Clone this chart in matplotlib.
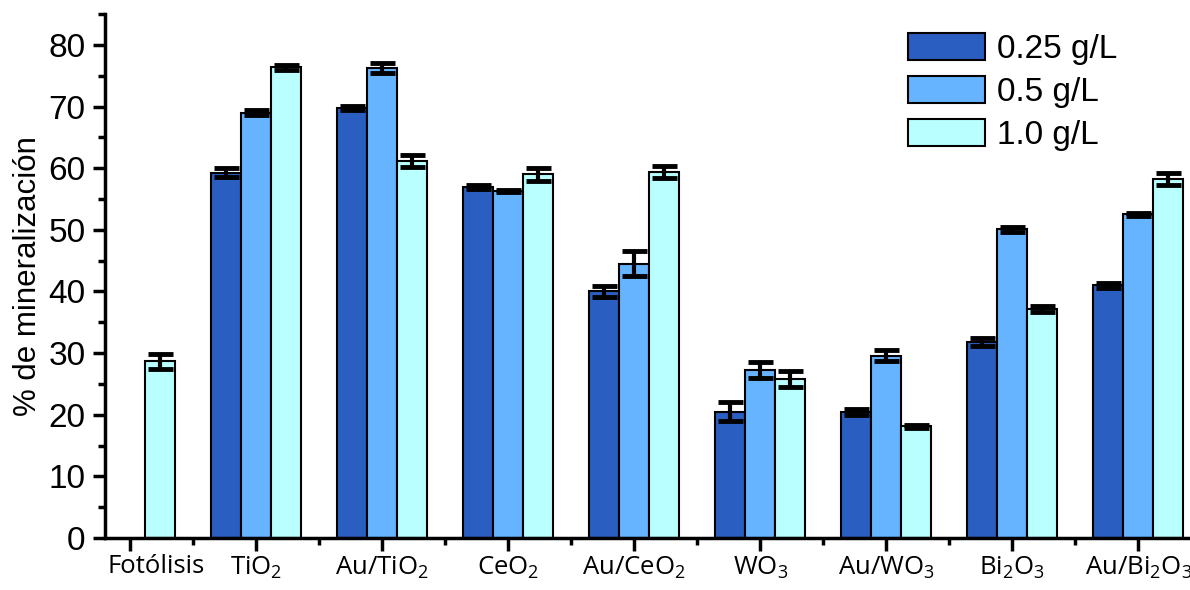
import numpy as np
import matplotlib
matplotlib.use("Agg")
import matplotlib.pyplot as plt
from matplotlib.ticker import MultipleLocator, FixedLocator

categories = ["Fotólisis", "TiO$_2$", "Au/TiO$_2$", "CeO$_2$", "Au/CeO$_2$",
              "WO$_3$", "Au/WO$_3$", "Bi$_2$O$_3$", "Au/Bi$_2$O$_3$"]
series_names = ["0.25 g/L", "0.5 g/L", "1.0 g/L"]
v025 = [np.nan, 59.3, 69.8, 57.0, 40.0, 20.5, 20.4, 31.8, 41.0]
e025 = [np.nan, 0.7, 0.3, 0.3, 0.9, 1.5, 0.5, 0.7, 0.4]
v05 = [np.nan, 69.0, 76.2, 56.3, 44.5, 27.3, 29.6, 50.1, 52.5]
e05 = [np.nan, 0.4, 0.8, 0.2, 2.0, 1.3, 0.9, 0.4, 0.3]
v10 = [28.7, 76.4, 61.2, 59.0, 59.4, 25.8, 18.1, 37.1, 58.3]
e10 = [1.2, 0.4, 1.0, 1.1, 1.0, 1.3, 0.2, 0.5, 1.0]
colors = ["#2A5EC0", "#66B3FF", "#B9FFFF"]

plt.rcParams['mathtext.default'] = 'regular'

fig = plt.figure(figsize=(11.9, 5.9), dpi=100)
ax = fig.add_axes([0.0882, 0.0881, 0.9118, 0.888])

x = np.arange(len(categories))
w = 0.238
vals = [v025, v05, v10]
errs = [e025, e05, e10]
for i, (v, e) in enumerate(zip(vals, errs)):
    ax.bar(x + (i - 1) * w, v, w, color=colors[i], edgecolor='black',
           linewidth=1.5, label=series_names[i], zorder=2)
    ax.errorbar(x + (i - 1) * w, v, yerr=e, fmt='none', ecolor='black',
                elinewidth=3, capsize=9, capthick=3.5, zorder=3)

ax.set_ylim(0, 85)
ax.set_xlim(-0.2, 8.41)
ax.yaxis.set_major_locator(MultipleLocator(10))
ax.yaxis.set_minor_locator(MultipleLocator(5))
ax.set_xticks(x)
ax.xaxis.set_minor_locator(FixedLocator(x[:-1] + 0.5))
# first label sits to the right of its tick in the original: draw it separately
shown = [""] + categories[1:]
ax.set_xticklabels(shown, fontfamily='Open Sans', fontsize=18.5)
ax.annotate(categories[0], xy=(x[0], 0), xycoords=ax.get_xaxis_transform(),
            xytext=(19, -11.5), textcoords='offset points', ha='center', va='top',
            fontfamily='Open Sans', fontsize=18.5, annotation_clip=False)
for lab in ax.get_yticklabels():
    lab.set_fontfamily('Liberation Sans')
    lab.set_fontsize(24)
ax.set_ylabel("% de mineralización", fontfamily='Liberation Sans', fontsize=22.5, labelpad=4)

for s in ['top', 'right']:
    ax.spines[s].set_visible(False)
for s in ['left', 'bottom']:
    ax.spines[s].set_linewidth(2.5)
ax.tick_params(axis='both', which='major', length=9, width=2.5, direction='out')
ax.tick_params(axis='both', which='minor', length=5, width=2.5, direction='out')
ax.tick_params(axis='y', pad=5)
ax.tick_params(axis='x', pad=3)

leg = ax.legend(loc='upper right', bbox_to_anchor=(0.945, 0.990), frameon=False,
                prop={'family': 'Liberation Sans', 'size': 24},
                handlelength=2.31, handleheight=0.87, labelspacing=0.33,
                handletextpad=0.35, borderaxespad=0.0)
for p in leg.get_patches():
    p.set_linewidth(1.5)

fig.savefig("out.png", dpi=100)
